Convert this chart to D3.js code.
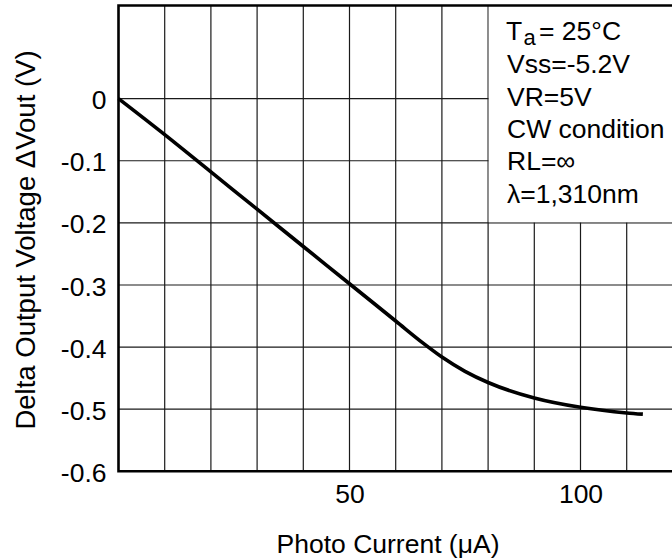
<!DOCTYPE html>
<html>
<head>
<meta charset="utf-8">
<script src="https://cdn.jsdelivr.net/npm/d3@7"></script>
<style>
  html, body { margin: 0; padding: 0; background: #fff; }
  svg { display: block; font-family: "Liberation Sans", Arial, Helvetica, sans-serif; }
</style>
</head>
<body>
<svg id="chart" width="672" height="560"></svg>
<script>
// Data
const photoCurrent = [0, 10, 20, 30, 40, 50, 60, 66, 70, 75, 80, 90, 100, 110, 113.5];
const deltaVout    = [0, -0.058, -0.118, -0.178, -0.238, -0.298, -0.358, -0.394, -0.416, -0.439, -0.457, -0.482, -0.497, -0.506, -0.508];
const xGrid = [10, 20, 30, 40, 50, 60, 70, 80, 90, 100, 110];
const yGrid = [0, -0.1, -0.2, -0.3, -0.4, -0.5];
const xTickLabels = [50, 100];
const yTickLabels = [0, -0.1, -0.2, -0.3, -0.4, -0.5, -0.6];
const legendLines = ["Ta = 25°C", "Vss=-5.2V", "VR=5V", "CW condition", "RL=∞", "λ=1,310nm"];
const xTitle = "Photo Current (μA)";
const yTitle = "Delta Output Voltage ΔVout (V)";

(function () {
const svg = d3.select("#chart");
const W = 672, H = 560;
const FS = 26.5;
const x = d3.scaleLinear().domain([0, 120]).range([118.5, 672.9]);
const y = d3.scaleLinear().domain([-0.6, 0.15]).range([471.3, 5.5]);
const pLeft = x(0), pRight = W + 5, pTop = y(0.15), pBottom = y(-0.6);
const gridColor = "#1a1a1a";

// vertical gridlines
svg.append("g").selectAll("line").data(xGrid).join("line")
  .attr("x1", d => x(d)).attr("x2", d => x(d))
  .attr("y1", pTop).attr("y2", pBottom)
  .attr("stroke", gridColor).attr("stroke-width", 1.2);
// horizontal gridlines
svg.append("g").selectAll("line").data(yGrid).join("line")
  .attr("x1", pLeft).attr("x2", pRight)
  .attr("y1", d => y(d)).attr("y2", d => y(d))
  .attr("stroke", gridColor).attr("stroke-width", 1.2);

// legend box (white panel covering gridlines)
svg.append("rect")
  .attr("x", x(80) + 0.6).attr("y", pTop)
  .attr("width", pRight - x(80)).attr("height", y(-0.2) - pTop - 0.6)
  .attr("fill", "#fff");

// frame (left, top, bottom)
svg.append("path")
  .attr("d", `M${pRight},${pTop}H${pLeft}V${pBottom}H${pRight}`)
  .attr("fill", "none").attr("stroke", "#000").attr("stroke-width", 2.6);

// curve
const line = d3.line().x((d, i) => x(photoCurrent[i])).y(d => y(d)).curve(d3.curveMonotoneX);
svg.append("path").datum(deltaVout)
  .attr("d", line)
  .attr("fill", "none").attr("stroke", "#000").attr("stroke-width", 3.6)
  .attr("stroke-linejoin", "round");

// y axis labels (ASCII hyphen as minus, as in the reference)
const fmt = d => d === 0 ? "0" : "-" + Math.abs(d).toFixed(1);
const yAxis = d3.axisLeft(y).tickValues(yTickLabels).tickSize(0).tickPadding(0).tickFormat(fmt);
const gy = svg.append("g").attr("transform", `translate(${pLeft - 12},0)`).call(yAxis);
gy.select(".domain").remove();
gy.selectAll("text").attr("font-size", FS).attr("fill", "#000")
  .attr("font-family", "'Liberation Sans', Arial, sans-serif").attr("dy", "0.38em");

// x axis labels
const xAxis = d3.axisBottom(x).tickValues(xTickLabels).tickSize(0).tickPadding(13);
const gx = svg.append("g").attr("transform", `translate(0,${pBottom})`).call(xAxis);
gx.select(".domain").remove();
gx.selectAll("text").attr("font-size", FS).attr("fill", "#000")
  .attr("font-family", "'Liberation Sans', Arial, sans-serif");

// axis titles
svg.append("text").attr("x", 388).attr("y", 553).attr("text-anchor", "middle")
  .attr("font-size", FS).text(xTitle);
svg.append("text").attr("transform", `translate(35,240) rotate(-90)`)
  .attr("text-anchor", "middle").attr("font-size", 27.5).text(yTitle);

// legend text
const lg = svg.append("g").attr("font-size", FS);
legendLines.forEach((t, i) => {
  const ty = 41 + i * 32.3;
  if (i === 0) {
    lg.append("text").attr("x", 506).attr("y", ty - 1).text("T");
    lg.append("text").attr("x", 523.5).attr("y", ty + 3.5).attr("font-size", 22).text("a");
    lg.append("text").attr("x", 539).attr("y", ty - 1).text("= 25°C");
  } else {
    lg.append("text").attr("x", 507).attr("y", ty).text(t);
  }
});
})();
</script>
</body>
</html>
